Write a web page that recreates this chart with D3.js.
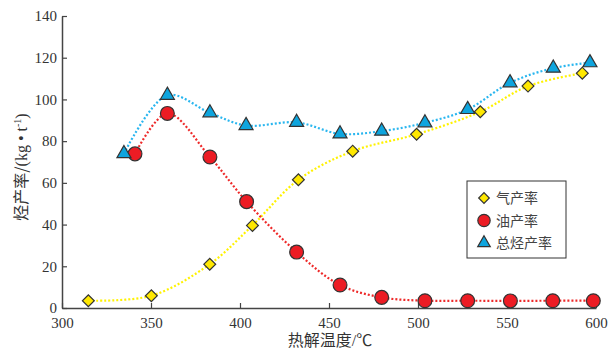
<!DOCTYPE html>
<html>
<head>
<meta charset="utf-8">
<script src="https://cdn.jsdelivr.net/npm/d3@7"></script>
<style>
body { margin: 0; background: #fff; }
text { font-family: "Liberation Serif", "Noto Sans CJK SC", serif; }
</style>
</head>
<body>
<div id="chart-area"></div>
<script>
// 气产率
var gasT = [314.8, 350.2, 383, 407, 432.8, 463.3, 499.2, 535, 561.8, 592.3];
var gasV = [3.5, 5.9, 21, 39.6, 61.5, 75.2, 83.3, 94.1, 106.4, 112.6];
// 油产率
var oilT = [341, 359.2, 383.1, 403.7, 431.8, 456.2, 479.6, 503.9, 527.9, 551.9, 575.7, 598.5];
var oilV = [73.9, 93.3, 72.4, 51, 26.8, 11, 5.1, 3.5, 3.5, 3.4, 3.5, 3.5];
// 总烃产率
var totT = [334.8, 359.2, 383.1, 403.4, 431.8, 456.2, 479.6, 503.9, 527.9, 551.7, 576, 596.6];
var totV = [74, 102, 93.6, 87.5, 89, 83.5, 84.8, 88.8, 95.2, 108, 115, 117.6];

var xTicks = [300, 350, 400, 450, 500, 550, 600];
var yTicks = [0, 20, 40, 60, 80, 100, 120, 140];
var legendNames = ["气产率", "油产率", "总烃产率"];

var margin = {top: 16, right: 14, bottom: 41, left: 62};
var width = 610 - margin.left - margin.right;
var height = 349 - margin.top - margin.bottom;

var svg = d3.select("#chart-area")
    .append("svg")
        .attr("width", 610)
        .attr("height", 349);

var g = svg.append("g")
    .attr("transform", "translate(" + margin.left + ", " + margin.top + ")");

var x = d3.scaleLinear().domain([300, 600]).range([0, width]);
var y = d3.scaleLinear().domain([0, 140]).range([height, 0]);

var axisColor = "#444";

var xAxisGroup = g.append("g")
    .attr("transform", "translate(0, " + height + ")")
    .call(d3.axisBottom(x).tickValues(xTicks).tickSizeInner(-5).tickSizeOuter(0).tickPadding(9));

var yAxisGroup = g.append("g")
    .call(d3.axisLeft(y).tickValues(yTicks).tickSizeInner(-5).tickSizeOuter(0).tickPadding(5));

[xAxisGroup, yAxisGroup].forEach(function(ax) {
    ax.select(".domain").attr("stroke", axisColor).attr("stroke-width", 1.5);
    ax.selectAll(".tick line").attr("stroke", axisColor).attr("stroke-width", 1.2);
    ax.selectAll(".tick text")
        .attr("fill", "#333")
        .attr("font-size", "15px")
        .attr("font-family", "Liberation Serif, serif");
});

// axis labels
svg.append("text")
    .attr("x", 330)
    .attr("y", 346)
    .attr("text-anchor", "middle")
    .attr("font-size", "16px")
    .attr("fill", "#333")
    .text("热解温度/℃");

var yLabel = svg.append("text")
    .attr("transform", "translate(27, 167) rotate(-90)")
    .attr("text-anchor", "middle")
    .attr("font-size", "16px")
    .attr("fill", "#333");
yLabel.append("tspan").attr("font-family", "Noto Sans CJK SC").text("烃产率/");
yLabel.append("tspan").text("(kg • t");
yLabel.append("tspan").attr("font-size", "10px").attr("dy", "-6").text("-1");
yLabel.append("tspan").attr("dy", "6").text(")");

var series = [
    {t: gasT, v: gasV, line: "#fff200", fill: "#ffe800", shape: d3.symbolSquare, size: 70, rot: 45},
    {t: oilT, v: oilV, line: "#ee2a2a", fill: "#ec1c24", shape: d3.symbolCircle, size: 150, rot: 0},
    {t: totT, v: totV, line: "#29b6ef", fill: "#0ea5de", shape: d3.symbolTriangle, size: 85, rot: 0}
];

var line = d3.line()
    .x(function(d) { return x(d[0]); })
    .y(function(d) { return y(d[1]); })
    .curve(d3.curveCatmullRom.alpha(0.5));

series.forEach(function(s) {
    var pts = s.t.map(function(t, i) { return [t, s.v[i]]; });
    g.append("path")
        .datum(pts)
        .attr("fill", "none")
        .attr("stroke", s.line)
        .attr("stroke-width", 2.2)
        .attr("stroke-dasharray", "2,2")
        .attr("d", line);
});

series.forEach(function(s) {
    var pts = s.t.map(function(t, i) { return [t, s.v[i]]; });
    g.selectAll(null).data(pts).enter().append("path")
        .attr("transform", function(d) { return "translate(" + x(d[0]) + "," + y(d[1]) + ") rotate(" + s.rot + ")"; })
        .attr("d", d3.symbol().type(s.shape).size(s.size))
        .attr("fill", s.fill)
        .attr("stroke", "#333")
        .attr("stroke-width", 1.2);
});

// legend
var legend = svg.append("g").attr("transform", "translate(467, 181)");
legend.append("rect")
    .attr("width", 99)
    .attr("height", 77)
    .attr("fill", "#fff")
    .attr("stroke", "#333")
    .attr("stroke-width", 1);

legendNames.forEach(function(name, i) {
    var s = series[i];
    var row = legend.append("g").attr("transform", "translate(0, " + (17 + i * 22.5) + ")");
    row.append("path")
        .attr("transform", "translate(17, 0) rotate(" + s.rot + ")")
        .attr("d", d3.symbol().type(s.shape).size(s.size * 0.8))
        .attr("fill", s.fill)
        .attr("stroke", "#333")
        .attr("stroke-width", 1.2);
    row.append("text")
        .attr("x", 29)
        .attr("y", 5)
        .attr("font-size", "14px")
        .attr("font-family", "Noto Sans CJK SC")
        .attr("fill", "#444")
        .text(name);
});
</script>
</body>
</html>
